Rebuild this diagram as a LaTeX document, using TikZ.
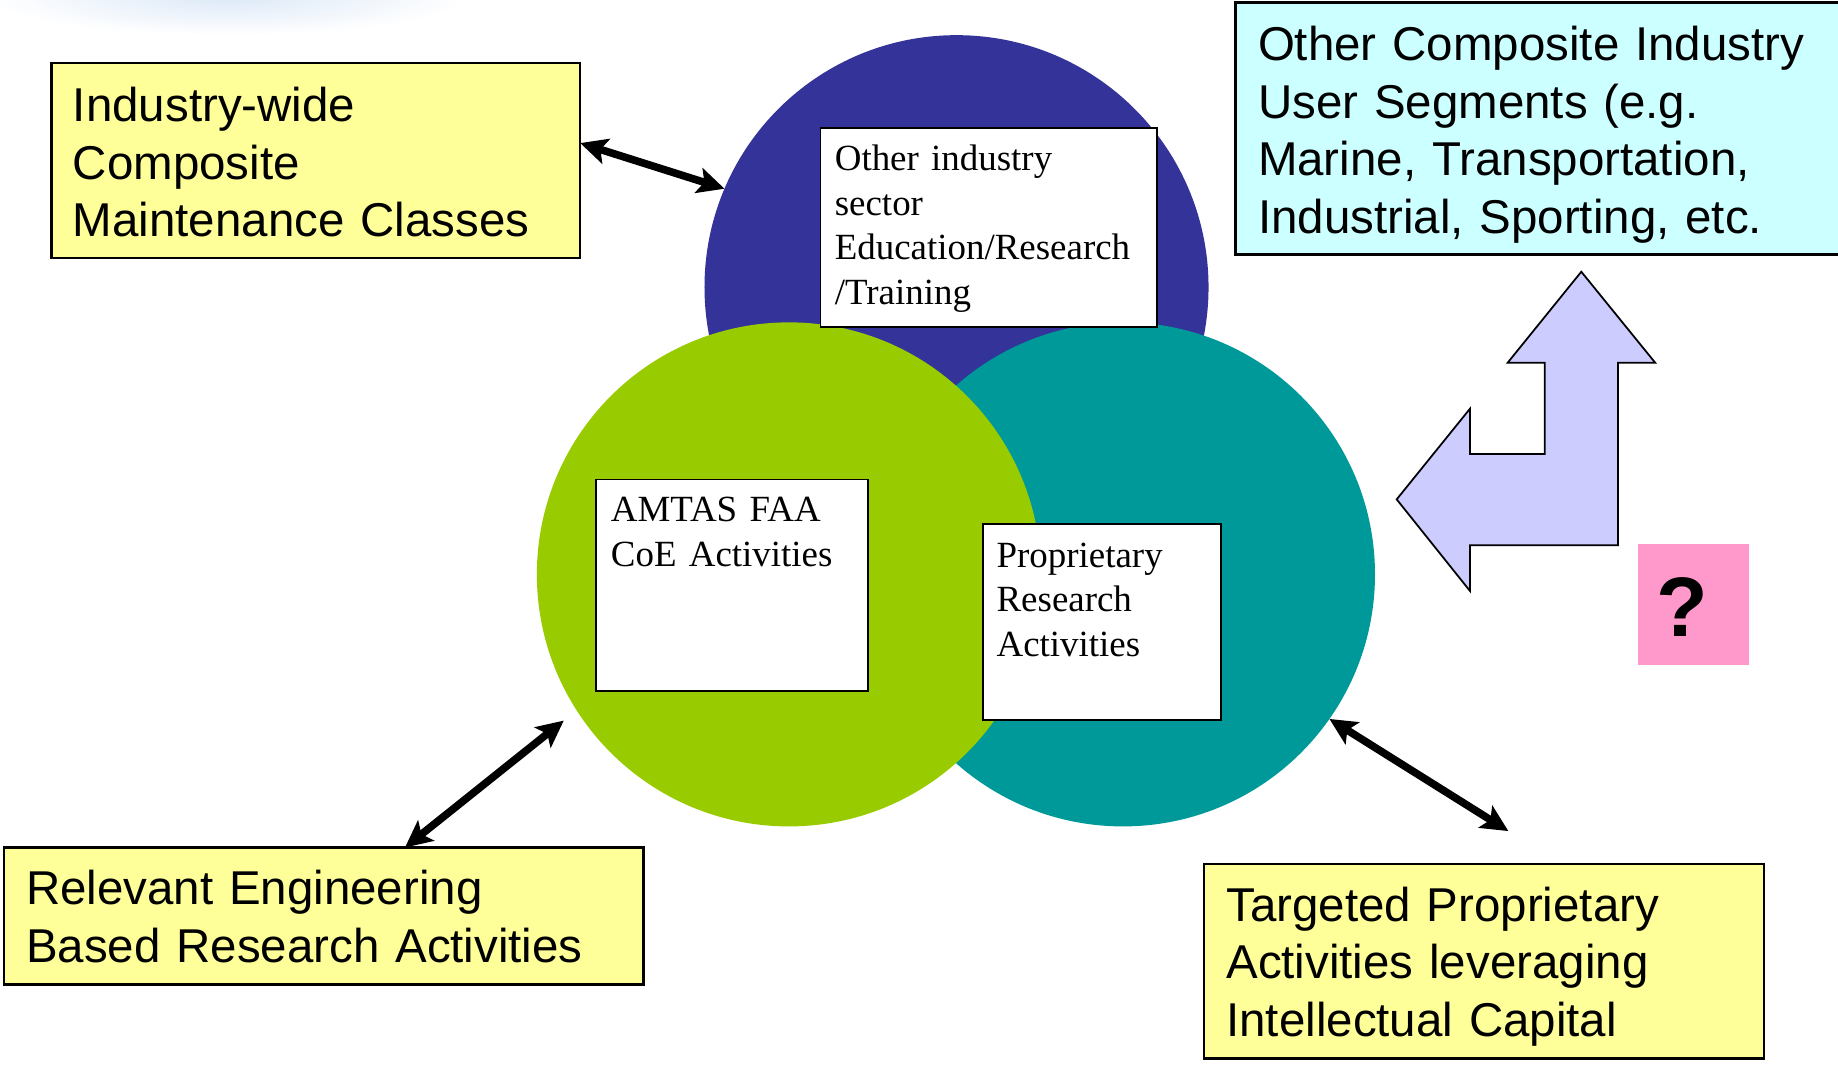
\documentclass[tikz,border=0pt]{standalone}
\usepackage{fontspec}
\setmainfont{Liberation Serif}
\newfontfamily\arialfont{Liberation Sans}
\usetikzlibrary{arrows.meta,calc}
\definecolor{cblue}{HTML}{333399}
\definecolor{cgreen}{HTML}{99CC00}
\definecolor{cteal}{HTML}{009999}
\definecolor{cyellow}{HTML}{FFFF99}
\definecolor{ccyan}{HTML}{CCFFFF}
\definecolor{clav}{HTML}{CCCCFF}
\definecolor{cpink}{HTML}{FF99CC}
\definecolor{cblur}{rgb}{0.86,0.91,0.97}
\begin{document}
\begin{tikzpicture}[x=1pt,y=-1pt,
  disc/.style={circle,minimum size=430pt,inner sep=0pt,outer sep=0pt},
  ybox/.style={draw=black,line width=2pt,fill=cyellow,inner sep=0pt,outer sep=0pt,anchor=north west},
  cbox/.style={draw=black,line width=2pt,fill=ccyan,inner sep=0pt,outer sep=0pt,anchor=north west},
  wbox/.style={draw=black,line width=1.5pt,fill=white,inner sep=0pt,outer sep=0pt,anchor=north west},
  atext/.style={font=\arialfont\fontsize{40.5pt}{49pt}\selectfont,inner sep=0pt,text width=530pt,align=left,anchor=base west},
  ttext/.style={font=\fontsize{31.5pt}{38pt}\selectfont,inner sep=0pt,text width=300pt,align=left,anchor=base west},
  dbl/.style={line width=6.5pt,{Stealth[length=23pt,width=22pt,inset=5pt]}-{Stealth[length=23pt,width=22pt,inset=5pt]}}
]
\useasboundingbox (0,0) rectangle (1568,908);
\fill[white] (0,0) rectangle (1568,908);
\shade[inner color=cblur,outer color=white] (195,-4) ellipse [x radius=205pt,y radius=34pt];

% circles
\node[disc,fill=cblue] (blue) at (816,245) {};
\node[disc,fill=cteal] (teal) at (958,490) {};
\node[disc,fill=cgreen] (green) at (673,490) {};

% white boxes
\node[wbox,minimum width=287pt,minimum height=170pt] (w1) at (700,109) {};
\node[wbox,minimum width=232pt,minimum height=180.5pt] (w2) at (508.7,409) {};
\node[wbox,minimum width=203pt,minimum height=166.7pt] (w3) at (838.4,447.3) {};
\node[ttext] (tw1) at (712,145.5) {Other industry\\sector\\Education/Research\\/Training};
\node[ttext] (tw2) at (521,445) {AMTAS FAA\\CoE Activities};
\node[ttext] (tw3) at (850,484) {Proprietary\\Research\\Activities};

% yellow and cyan boxes
\node[ybox,minimum width=451pt,minimum height=166pt] (b1) at (44,54) {};
\node[atext] (t1) at (62,104) {Industry-wide\\Composite\\Maintenance Classes};
\node[ybox,minimum width=545.6pt,minimum height=117pt] (b2) at (3.4,723) {};
\node[atext] (t2) at (22,772) {Relevant Engineering\\Based Research Activities};
\node[ybox,minimum width=478pt,minimum height=166pt] (b3) at (1027,737) {};
\node[atext] (t3) at (1046,786) {Targeted Proprietary\\Activities leveraging\\Intellectual Capital};
\node[cbox,minimum width=540pt,minimum height=215pt] (b4) at (1054,2) {};
\node[atext] (t4) at (1073,52) {Other Composite Industry\\User Segments (e.g.\\Marine, Transportation,\\Industrial, Sporting, etc.};

% L-shaped double arrow
\draw[fill=clav,line width=1.5pt,line join=miter]
  (1349,231.8) -- (1412,309.4) -- (1380.4,309.4) -- (1380.4,465.2) -- (1254,465.2)
  -- (1254,504.1) -- (1191.5,426) -- (1254,348.7) -- (1254,387.3) -- (1317.8,387.3)
  -- (1317.8,309.4) -- (1286.2,309.4) -- cycle;

% question box
\node[fill=cpink,minimum width=94.6pt,minimum height=103.8pt,inner sep=0pt,anchor=north west] (q) at (1397.4,463.5) {};
\node[font=\arialfont\bfseries\fontsize{72pt}{80pt}\selectfont,inner sep=0pt,anchor=base] (qm) at (1435.5,543) {?};

% connectors
\coordinate (a3end) at (1286.8,709);
\draw[dbl] ($(b1.north east)!0.41!(b1.south east)$) -- (blue.157.5);
\draw[dbl] ($(b2.north west)!0.627!(b2.north east)$) -- ($(green.center)!229pt!(green.213)$);
\draw[dbl] (teal.325.4) -- (a3end);
\end{tikzpicture}
\end{document}
